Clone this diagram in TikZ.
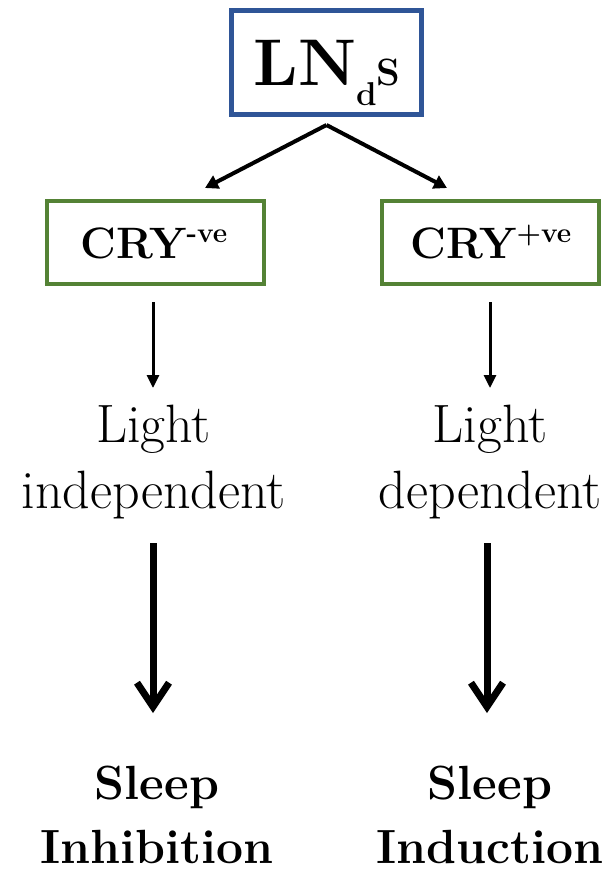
\documentclass[tikz,border=0pt]{standalone}
\usetikzlibrary{arrows.meta}
\definecolor{lnblue}{RGB}{47,85,151}
\definecolor{crygreen}{RGB}{84,130,53}
\begin{document}
\begin{tikzpicture}[x=1pt,y=-1pt,
  bluebox/.style={draw=lnblue,line width=5pt,minimum width=190pt,minimum height=104pt,inner sep=0pt},
  greenbox/.style={draw=crygreen,line width=4pt,minimum width=217pt,minimum height=83pt,inner sep=0pt},
  lbl/.style={anchor=base,inner sep=0pt,align=center,font=\fontsize{54}{66}\selectfont},
  blbl/.style={anchor=base,inner sep=0pt,align=center,font=\fontsize{48}{64}\selectfont\bfseries},
  crylbl/.style={anchor=base,inner sep=0pt,font=\fontsize{44}{44}\selectfont\bfseries},
  thinarrow/.style={line width=4pt,-{Triangle[length=13pt,width=14pt]}},
  midarrow/.style={line width=3pt,-{Triangle[length=13pt,width=12pt]}},
  bigarrow/.style={line width=7pt,-{Straight Barb[length=24pt,width=32pt]}}]
\useasboundingbox (0,0) rectangle (613,871);
% boxes
\node[bluebox] (lnds) at (326.5,62.5) {};
\node[anchor=base,inner sep=0pt,font=\fontsize{66}{66}\selectfont\bfseries] (lndst) at (327,85)
  {LN\raisebox{-20pt}{\fontsize{33}{33}\selectfont d}{\fontsize{38}{38}\selectfont S}};
\node[greenbox] (cryl) at (155.5,242.5) {};
\node[greenbox] (cryr) at (490.5,242.5) {};
\node[crylbl] (cryltxt) at (154,258) {CRY\raisebox{16pt}{\fontsize{28}{28}\selectfont -ve}};
\node[crylbl] (cryrtxt) at (491,258) {CRY\raisebox{16pt}{\fontsize{28}{28}\selectfont +ve}};
% texts (base anchor = last line)
\node[lbl] (lightl) at (153.5,508) {Light\\independent};
\node[lbl] (lightr) at (490,508) {Light\\dependent};
\node[blbl] (sleepl) at (157,863) {Sleep\\Inhibition};
\node[blbl] (sleepr) at (490,863) {Sleep\\Induction};
% connector points
\coordinate (apex) at (326.5,125);
\coordinate (ltip) at (205,188);
\coordinate (rtip) at (447,188);
\coordinate (m1s) at (153,302); \coordinate (m1e) at (153,388);
\coordinate (m2s) at (490,302); \coordinate (m2e) at (490,388);
\coordinate (b1s) at (153,543); \coordinate (b1e) at (153,713);
\coordinate (b2s) at (487,543); \coordinate (b2e) at (487,713);
% connectors
\draw[thinarrow] (apex) -- (ltip);
\draw[thinarrow] (apex) -- (rtip);
\draw[midarrow] (m1s) -- (m1e);
\draw[midarrow] (m2s) -- (m2e);
\draw[bigarrow] (b1s) -- (b1e);
\draw[bigarrow] (b2s) -- (b2e);
\end{tikzpicture}
\end{document}
